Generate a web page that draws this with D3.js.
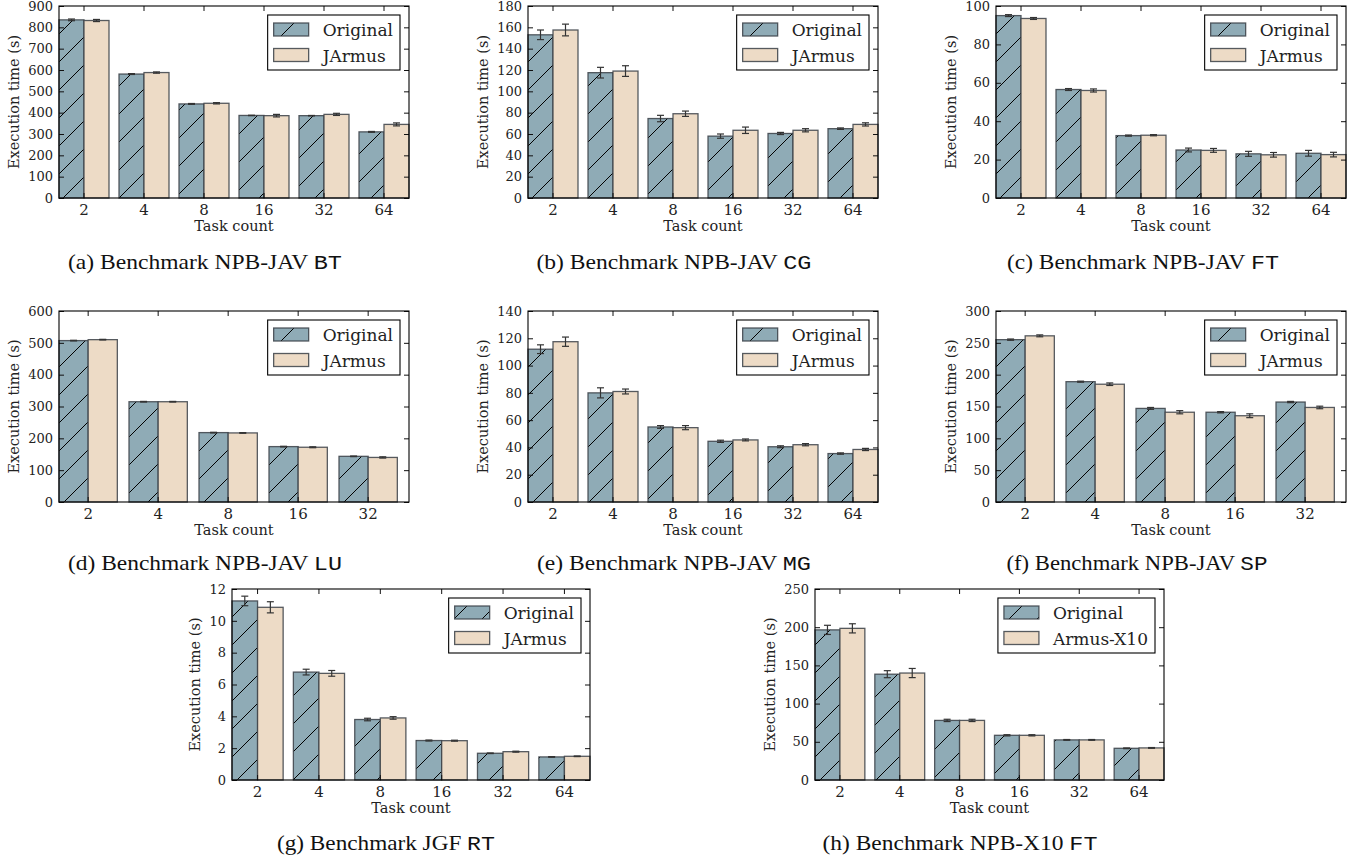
<!DOCTYPE html>
<html><head><meta charset="utf-8">
<script src="https://cdn.jsdelivr.net/npm/d3@7"></script>
<style>body{margin:0;background:#fff} svg{display:block}</style>
</head><body>
<script>
// ---------- DATA ----------
const tasks6 = ["2","4","8","16","32","64"];
const tasks5 = ["2","4","8","16","32"];
const seriesJArmus = ["Original","JArmus"];
const seriesX10 = ["Original","Armus-X10"];

// (a) NPB-JAV BT
const btOriginal = [835,581,441,387,386,310];
const btOriginalErr = [4,2,2,1,1,2];
const btJArmus = [832,588,444,386,392,345];
const btJArmusErr = [5,3,3,6,5,7];
const btTicks = [0,100,200,300,400,500,600,700,800,900];

// (b) NPB-JAV CG
const cgOriginal = [153,117.5,74.5,58,60.5,65];
const cgOriginalErr = [4.5,5,3,2,1,0.7];
const cgJArmus = [157.5,119,79,63.5,63.5,69];
const cgJArmusErr = [5.5,5,2.5,3,1.5,1.5];
const cgTicks = [0,20,40,60,80,100,120,140,160,180];

// (c) NPB-JAV FT
const ftOriginal = [95,56.5,32.5,25,23,23.3];
const ftOriginalErr = [0.5,0.5,0.3,1,1.3,1.5];
const ftJArmus = [93.5,56,32.7,24.8,22.5,22.6];
const ftJArmusErr = [0.5,0.8,0.3,1,1.2,1.2];
const ftTicks = [0,20,40,60,80,100];

// (d) NPB-JAV LU
const luOriginal = [507,315,218,174,143.5];
const luOriginalErr = [1,1,1,1,1];
const luJArmus = [510,315,217,172,140];
const luJArmusErr = [1,1,1,1.5,2];
const luTicks = [0,100,200,300,400,500,600];

// (e) NPB-JAV MG
const mgOriginal = [112,80,55,44.5,40.5,35.5];
const mgOriginalErr = [3.2,3.7,1,0.8,0.7,0.5];
const mgJArmus = [117.5,81,54.5,45.5,42,38.5];
const mgJArmusErr = [3.4,1.8,1.5,0.7,0.8,0.8];
const mgTicks = [0,20,40,60,80,100,120,140];

// (f) NPB-JAV SP
const spOriginal = [255,189,147,141,157];
const spOriginalErr = [1,0.8,1.5,1,1];
const spJArmus = [261,185,141,135.5,148.5];
const spJArmusErr = [1.5,2,2.5,3,2];
const spTicks = [0,50,100,150,200,250,300];

// (g) JGF RT
const rtOriginal = [11.25,6.78,3.8,2.48,1.68,1.45];
const rtOriginalErr = [0.3,0.18,0.08,0.03,0.02,0.02];
const rtJArmus = [10.85,6.7,3.9,2.47,1.78,1.49];
const rtJArmusErr = [0.35,0.18,0.08,0.03,0.03,0.02];
const rtTicks = [0,2,4,6,8,10,12];

// (h) NPB-X10 FT
const x10Original = [196.5,138.5,78,58.5,52.5,41.5];
const x10OriginalErr = [6,4.6,1.5,0.8,0.5,0.5];
const x10Armus = [198.5,140,78,58.5,52.5,42];
const x10ArmusErr = [6,6,1.5,0.8,0.5,0.5];
const x10Ticks = [0,50,100,150,200,250];

const captionsText = [
  ["(a) Benchmark NPB-JAV ","BT"],
  ["(b) Benchmark NPB-JAV ","CG"],
  ["(c) Benchmark NPB-JAV ","FT"],
  ["(d) Benchmark NPB-JAV ","LU"],
  ["(e) Benchmark NPB-JAV ","MG"],
  ["(f) Benchmark NPB-JAV ","SP"],
  ["(g) Benchmark JGF ","RT"],
  ["(h) Benchmark NPB-X10 ","FT"]
];
const xLabel = "Task count";
const yLabel = "Execution time (s)";

const panels = [
  {tasks:tasks6, names:seriesJArmus, a:btOriginal, ae:btOriginalErr, b:btJArmus, be:btJArmusErr, ticks:btTicks},
  {tasks:tasks6, names:seriesJArmus, a:cgOriginal, ae:cgOriginalErr, b:cgJArmus, be:cgJArmusErr, ticks:cgTicks},
  {tasks:tasks6, names:seriesJArmus, a:ftOriginal, ae:ftOriginalErr, b:ftJArmus, be:ftJArmusErr, ticks:ftTicks},
  {tasks:tasks5, names:seriesJArmus, a:luOriginal, ae:luOriginalErr, b:luJArmus, be:luJArmusErr, ticks:luTicks},
  {tasks:tasks6, names:seriesJArmus, a:mgOriginal, ae:mgOriginalErr, b:mgJArmus, be:mgJArmusErr, ticks:mgTicks},
  {tasks:tasks5, names:seriesJArmus, a:spOriginal, ae:spOriginalErr, b:spJArmus, be:spJArmusErr, ticks:spTicks},
  {tasks:tasks6, names:seriesJArmus, a:rtOriginal, ae:rtOriginalErr, b:rtJArmus, be:rtJArmusErr, ticks:rtTicks},
  {tasks:tasks6, names:seriesX10, a:x10Original, ae:x10OriginalErr, b:x10Armus, be:x10ArmusErr, ticks:x10Ticks}
];

// ---------- LAYOUT ----------
const layout = [
  {x:59,  y:6,   w:350, h:192, cx:205,  cy:269, cw:274},
  {x:528, y:6,   w:350, h:192, cx:674,  cy:269, cw:275},
  {x:996, y:6,   w:350, h:192, cx:1143, cy:269, cw:272},
  {x:59,  y:311, w:350, h:191, cx:205,  cy:570, cw:274},
  {x:528, y:311, w:350, h:191, cx:674,  cy:570, cw:274},
  {x:996, y:311, w:350, h:191, cx:1137, cy:570, cw:261},
  {x:232, y:589, w:358, h:191, cx:386,  cy:850, cw:218},
  {x:815, y:589, w:349, h:191, cx:960,  cy:850, cw:275}
];

const colOrig = "#8fabb6";
const colAlt = "#eddbc6";
const edge = "#3a3f47";
const serif = "'DejaVu Serif', serif";

const svg = d3.select("body").append("svg").attr("width",1353).attr("height",857);
svg.append("rect").attr("width",1353).attr("height",857).attr("fill","#fff");

const defs = svg.append("defs");
const pat = defs.append("pattern").attr("id","hatch").attr("patternUnits","userSpaceOnUse")
  .attr("width",28).attr("height",28);
pat.append("path").attr("d","M0,28 L28,0 M-7,7 L7,-7 M21,35 L35,21")
  .attr("stroke","#000").attr("stroke-width",1).attr("fill","none");

panels.forEach((p, pi) => {
  const L = layout[pi];
  const g = svg.append("g").attr("transform",`translate(${L.x},${L.y})`);
  const n = p.tasks.length;
  const x0 = d3.scaleBand().domain(p.tasks).range([0, L.w])
    .paddingInner(1/6).paddingOuter(n === 5 ? 1/12 : 0).align(0);
  const x1 = d3.scaleBand().domain([0,1]).range([0, x0.bandwidth()]);
  const yMax = d3.max(p.ticks);
  const y = d3.scaleLinear().domain([0, yMax]).range([L.h, 0]);

  const seriesList = [
    {vals:p.a, errs:p.ae, fill:colOrig, hatch:true},
    {vals:p.b, errs:p.be, fill:colAlt, hatch:false}
  ];

  seriesList.forEach((s, si) => {
    const data = p.tasks.map((t,i) => ({t, v:s.vals[i], e:s.errs[i]}));
    const bx = d => x0(d.t) + x1(si);
    const bw = x1.bandwidth();
    const bg = g.append("g");
    bg.selectAll("rect.fill").data(data).join("rect").attr("class","fill")
      .attr("x",bx).attr("y",d=>y(d.v)).attr("width",bw).attr("height",d=>y(0)-y(d.v))
      .attr("fill",s.fill);
    if (s.hatch) {
      bg.selectAll("rect.hatch").data(data).join("rect").attr("class","hatch")
        .attr("x",bx).attr("y",d=>y(d.v)).attr("width",bw).attr("height",d=>y(0)-y(d.v))
        .attr("fill","url(#hatch)");
    }
    bg.selectAll("rect.edge").data(data).join("rect").attr("class","edge")
      .attr("x",bx).attr("y",d=>y(d.v)).attr("width",bw).attr("height",d=>y(0)-y(d.v))
      .attr("fill","none").attr("stroke",edge).attr("stroke-width",1.3).attr("stroke-opacity",0.85);
    // error bars
    const eg = g.append("g").attr("stroke","#333").attr("stroke-width",1.2);
    data.forEach(d => {
      const cx = bx(d) + bw/2;
      eg.append("line").attr("x1",cx).attr("x2",cx).attr("y1",y(d.v-d.e)).attr("y2",y(d.v+d.e));
      eg.append("line").attr("x1",cx-3.5).attr("x2",cx+3.5).attr("y1",y(d.v-d.e)).attr("y2",y(d.v-d.e));
      eg.append("line").attr("x1",cx-3.5).attr("x2",cx+3.5).attr("y1",y(d.v+d.e)).attr("y2",y(d.v+d.e));
    });
  });

  // axes
  const yl = g.append("g").call(d3.axisLeft(y).tickValues(p.ticks).tickSizeInner(-5).tickSizeOuter(0)
      .tickPadding(6).tickFormat(d3.format("d")))
    .attr("font-family",serif).attr("font-size",13);
  yl.select(".domain").remove();
  yl.selectAll("text").attr("fill","#222");
  yl.selectAll("line").attr("stroke","#111");

  const yr = g.append("g").attr("transform",`translate(${L.w},0)`)
    .call(d3.axisRight(y).tickValues(p.ticks).tickSizeInner(-5).tickSizeOuter(0).tickFormat(""));
  yr.select(".domain").remove();
  yr.selectAll("line").attr("stroke","#111");

  const xb = g.append("g").attr("transform",`translate(0,${L.h})`)
    .call(d3.axisBottom(x0).tickSizeInner(-5).tickSizeOuter(0).tickPadding(6))
    .attr("font-family",serif).attr("font-size",15);
  xb.select(".domain").remove();
  xb.selectAll("text").attr("fill","#222");
  xb.selectAll("line").attr("stroke","#111");

  const xt = g.append("g").call(d3.axisTop(x0).tickSizeInner(-5).tickSizeOuter(0).tickFormat(""));
  xt.select(".domain").remove();
  xt.selectAll("line").attr("stroke","#111");

  // frame
  g.append("rect").attr("width",L.w).attr("height",L.h).attr("fill","none")
    .attr("stroke","#000").attr("stroke-width",1.1);

  // axis labels
  g.append("text").attr("x",L.w/2).attr("y",L.h+33).attr("text-anchor","middle")
    .attr("font-family",serif).attr("font-size",14.5).attr("fill","#222").text(xLabel);
  const bb = yl.node().getBBox();
  g.append("text").attr("transform",`translate(${bb.x-9},${L.h/2}) rotate(-90)`)
    .attr("text-anchor","middle").attr("font-family",serif).attr("font-size",14.5)
    .attr("fill","#222").text(yLabel);

  // legend
  const lg = g.append("g");
  const box = lg.append("rect").attr("fill","#fff").attr("stroke","#000").attr("stroke-width",1.1);
  const rowH = 25.5, hw = 35, hh = 13, padL = 6, padT = 8, gap = 14, padR = 7;
  let maxW = 0;
  const items = [];
  p.names.forEach((nm, i) => {
    const t = lg.append("text").attr("font-family",serif).attr("font-size",17).attr("fill","#222").text(nm);
    maxW = Math.max(maxW, t.node().getComputedTextLength());
    items.push(t);
  });
  const bwid = padL + hw + gap + maxW + padR;
  const bhei = padT*2 + rowH + hh + 0.5;
  const bx0 = L.w - 9 - bwid, by0 = 9;
  box.attr("x",bx0).attr("y",by0).attr("width",bwid).attr("height",bhei);
  p.names.forEach((nm, i) => {
    const ry = by0 + padT + i*rowH;
    const fill = i === 0 ? colOrig : colAlt;
    lg.append("rect").attr("x",bx0+padL).attr("y",ry).attr("width",hw).attr("height",hh).attr("fill",fill);
    if (i === 0) lg.append("rect").attr("x",bx0+padL).attr("y",ry).attr("width",hw).attr("height",hh).attr("fill","url(#hatch)");
    lg.append("rect").attr("x",bx0+padL).attr("y",ry).attr("width",hw).attr("height",hh)
      .attr("fill","none").attr("stroke",edge).attr("stroke-width",1.3).attr("stroke-opacity",0.85);
    items[i].attr("x",bx0+padL+hw+gap).attr("y",ry+hh);
    items[i].raise();
  });

  // caption
  const cap = svg.append("text").attr("x",L.cx).attr("y",L.cy).attr("text-anchor","middle")
    .attr("font-size",21).attr("fill","#111")
    .attr("textLength",L.cw).attr("lengthAdjust","spacingAndGlyphs");
  cap.append("tspan").attr("font-family","'Liberation Serif', serif").text(captionsText[pi][0]);
  cap.append("tspan").attr("font-family","'Liberation Mono', monospace").text(captionsText[pi][1]);
});
</script>
</body></html>
